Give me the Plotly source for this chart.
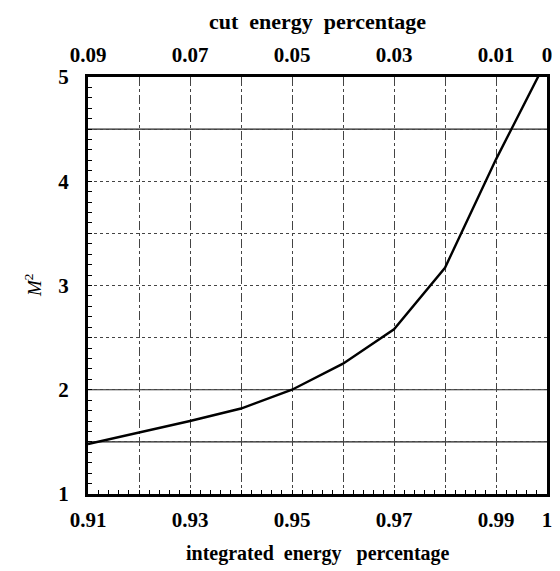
import plotly.graph_objects as go

# data
integrated = [0.91, 0.92, 0.93, 0.94, 0.95, 0.96, 0.97, 0.98, 0.99, 1.00]
m_squared = [1.48, 1.59, 1.70, 1.82, 2.00, 2.25, 2.58, 3.17, 4.21, 5.17]
cut_energy = [round(1 - v, 2) for v in integrated]

bottom_tickvals = [0.91, 0.93, 0.95, 0.97, 0.99, 1.00]
bottom_ticktext = ["0.91", "0.93", "0.95", "0.97", "0.99", "1"]
top_tickvals = [0.09, 0.07, 0.05, 0.03, 0.01, 0.0]
top_ticktext = ["0.09", "0.07", "0.05", "0.03", "0.01", "0"]
y_tickvals = [1, 2, 3, 4, 5]
y_ticktext = ["1", "2", "3", "4", "5"]
ref_levels = [1.5, 2.0, 4.5]

FONT = "Liberation Serif"

fig = go.Figure()
# carrier traces for the secondary axes (invisible)
fig.add_trace(go.Scatter(
    x=cut_energy, y=m_squared, xaxis="x2", yaxis="y",
    mode="lines", line=dict(color="rgba(0,0,0,0)", width=0),
    hoverinfo="skip", showlegend=False))
fig.add_trace(go.Scatter(
    x=integrated, y=m_squared, xaxis="x3", yaxis="y2",
    mode="lines", line=dict(color="rgba(0,0,0,0)", width=0),
    hoverinfo="skip", showlegend=False))
# the curve
fig.add_trace(go.Scatter(
    x=integrated, y=m_squared, mode="lines",
    line=dict(color="black", width=2.4), showlegend=False))

for lv in ref_levels:
    fig.add_hline(y=lv, line=dict(color="#222", width=1.2), layer="below")

tickfont = dict(family=FONT, size=21, color="black", weight="bold")

# page body has an 8px margin, so the figure is offset by 8px
fig.update_layout(
    width=552, height=563,
    margin=dict(l=80, r=8, t=69, b=77),
    paper_bgcolor="white", plot_bgcolor="white",
    xaxis=dict(
        range=[0.91, 1.0], tickvals=bottom_tickvals, ticktext=bottom_ticktext,
        showgrid=True, gridcolor="#444", gridwidth=1, griddash="dashdot",
        ticks="inside", ticklen=4, tickcolor="black", tickwidth=1.2,
        minor=dict(dtick=0.01, tick0=0.91, ticks="inside", ticklen=4,
                   tickcolor="black", showgrid=True, gridcolor="#444",
                   gridwidth=1, griddash="dashdot"),
        showline=True, linecolor="black", linewidth=3, mirror=True,
        tickfont=tickfont, ticklabelstandoff=5, zeroline=False,
        ticklabeloverflow="allow",
    ),
    xaxis2=dict(
        range=[0.09, 0.0], overlaying="x", side="top",
        tickvals=top_tickvals, ticktext=top_ticktext,
        showgrid=False, ticks="", showline=False,
        tickfont=tickfont, ticklabelstandoff=10, zeroline=False,
        ticklabeloverflow="allow",
    ),
    xaxis3=dict(
        range=[0.91, 1.0], overlaying="x", side="bottom",
        tick0=0.91, dtick=0.002, showticklabels=False,
        ticks="inside", ticklen=4, tickcolor="black", tickwidth=1,
        showgrid=False, showline=False, zeroline=False,
    ),
    yaxis=dict(
        range=[1, 5], tickvals=y_tickvals, ticktext=y_ticktext,
        showgrid=True, gridcolor="#444", gridwidth=1, griddash="dot",
        ticks="inside", ticklen=4, tickcolor="black", tickwidth=1.2,
        minor=dict(dtick=0.5, tick0=1, ticks="inside", ticklen=4,
                   tickcolor="black", showgrid=True, gridcolor="#444",
                   gridwidth=1, griddash="dot"),
        showline=True, linecolor="black", linewidth=3, mirror=True,
        tickfont=tickfont, ticklabelstandoff=12, zeroline=False,
    ),
    yaxis2=dict(
        range=[1, 5], overlaying="y", side="left",
        tick0=1, dtick=0.1, showticklabels=False,
        ticks="inside", ticklen=4, tickcolor="black", tickwidth=1,
        showgrid=False, showline=False, zeroline=False,
    ),
    annotations=[
        dict(text="cut  energy  percentage", xref="paper", yref="paper",
             x=0.5, y=1.132, xanchor="center", yanchor="middle",
             showarrow=False,
             font=dict(family=FONT, size=22, color="black", weight="bold")),
        dict(text="integrated  energy   percentage", xref="paper", yref="paper",
             x=0.5, y=-0.1415, xanchor="center", yanchor="middle",
             showarrow=False,
             font=dict(family=FONT, size=20, color="black", weight="bold")),
        dict(text="<i>M</i><sup>2</sup>", xref="paper", yref="paper",
             x=-0.1207, y=0.5, xanchor="center", yanchor="middle",
             showarrow=False, textangle=-90,
             font=dict(family=FONT, size=19, color="black")),
    ],
)

fig.write_html("out.html")
